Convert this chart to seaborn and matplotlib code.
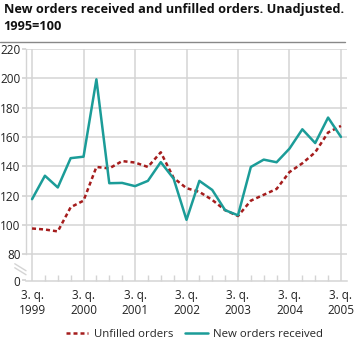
import matplotlib
matplotlib.use("Agg")
import matplotlib.pyplot as plt
import seaborn as sns
import pandas as pd
import numpy as np

# Data: quarterly, 3rd quarter 1999 .. 3rd quarter 2005
quarters = ["1999Q3", "1999Q4", "2000Q1", "2000Q2", "2000Q3", "2000Q4",
            "2001Q1", "2001Q2", "2001Q3", "2001Q4", "2002Q1", "2002Q2",
            "2002Q3", "2002Q4", "2003Q1", "2003Q2", "2003Q3", "2003Q4",
            "2004Q1", "2004Q2", "2004Q3", "2004Q4", "2005Q1", "2005Q2",
            "2005Q3"]
unfilled_orders = [97.5, 96.8, 95.5, 112, 116.5, 139.5, 138.5, 143.5, 142.5,
                   139.5, 149.5, 132, 125, 122.5, 117, 110, 106, 116.5, 120.5,
                   124.5, 136, 142, 149.5, 163, 167.5]
new_orders = [117.5, 133.5, 125.5, 145.5, 146.5, 199.3, 128.4, 128.6, 126.4,
              130, 142.8, 131.5, 103.4, 130, 123.8, 110, 106.5, 139.5, 144.5,
              142.7, 152, 165.2, 155.8, 173.2, 160]
tick_labels = ["3. q.\n1999", "3. q.\n2000", "3. q.\n2001", "3. q.\n2002",
               "3. q.\n2003", "3. q.\n2004", "3. q.\n2005"]
y_ticks = [80, 100, 120, 140, 160, 180, 200, 220]

sns.set_theme(style="white")
plt.rcParams["font.family"] = ["Open Sans", "DejaVu Sans"]

df = pd.DataFrame({
    "idx": np.arange(len(quarters)),
    "Unfilled orders": unfilled_orders,
    "New orders received": new_orders,
})
long = df.melt(id_vars="idx", var_name="series", value_name="value")

fig = plt.figure(figsize=(3.57, 3.43), dpi=100)
ax = fig.add_axes([26 / 357, 1 - 280.5 / 343, (347 - 26) / 357, (280.5 - 49) / 343])

red = "#a51d1d"
teal = "#1b9c98"
sns.lineplot(data=long, x="idx", y="value", hue="series", style="series",
             palette={"Unfilled orders": red, "New orders received": teal},
             dashes={"Unfilled orders": (1.6, 1.2), "New orders received": ""},
             hue_order=["Unfilled orders", "New orders received"],
             linewidth=1.8, ax=ax, legend=True)

ybottom = 62
ax.set_ylim(ybottom, 220)
ax.set_xlim(-0.47, 24.47)
ax.set_yticks([ybottom] + y_ticks)
ax.set_yticklabels(["0"] + [str(v) for v in y_ticks])
ax.set_xticks(np.arange(0, 25, 4))
ax.set_xticklabels(tick_labels)
ax.set_xticks(np.arange(0, 25, 1), minor=True)
ax.set_xlabel("")
ax.set_ylabel("")

gridc = "#d4d4d4"
for v in y_ticks:
    ax.axhline(v, color=gridc, lw=1.1, zorder=0)
for xv in np.arange(0, 25, 4):
    ax.axvline(xv, color=gridc, lw=1.1, zorder=0)

for s in ["top", "right"]:
    ax.spines[s].set_visible(False)
ax.spines["left"].set_color(gridc)
ax.spines["bottom"].set_color(gridc)
ax.spines["left"].set_linewidth(1.0)
ax.spines["bottom"].set_linewidth(1.1)
ax.spines["left"].set_bounds(80, 220)

ax.tick_params(axis="x", which="major", direction="in", length=0, pad=6,
               labelsize=8.5, colors="#222222")
ax.tick_params(axis="x", which="minor", direction="in", length=4, color=gridc,
               width=1.0, bottom=True)
ax.tick_params(axis="y", which="major", length=3, color=gridc, pad=1,
               labelsize=8.5, colors="#222222", left=True)

# axis break marks
for dy in (0, 4):
    ax.plot([-0.035, 0.0], [0.055 + dy / 231.5, 0.025 + dy / 231.5],
            transform=ax.transAxes, color=gridc, lw=1.0, clip_on=False)

h, l = ax.get_legend_handles_labels()
ax.get_legend().remove()
fig.legend(h, l, loc="lower center", bbox_to_anchor=(0.545, -0.02), ncol=2,
           frameon=False, fontsize=8.2, handlelength=2.0, columnspacing=1.0,
           handletextpad=0.5)

fig.text(0.010, 0.992, "New orders received and unfilled orders. Unadjusted.\n1995=100",
         ha="left", va="top", fontsize=9.2, fontweight="bold", color="#111111",
         linespacing=1.38)
fig.add_artist(plt.Line2D([0, 345 / 357], [1 - 41.5 / 343] * 2, color="#888888",
                          lw=1.0, transform=fig.transFigure))

fig.savefig("out.png", dpi=100)
